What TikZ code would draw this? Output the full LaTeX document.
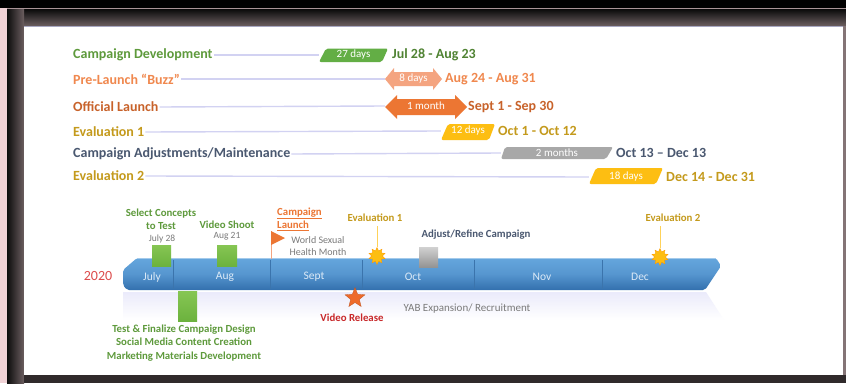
\documentclass[tikz,border=0pt]{standalone}
\usepackage{fontspec}
\setmainfont{Carlito}
\usetikzlibrary{shapes.geometric}
\definecolor{cdg}{HTML}{5E9A3C}
\definecolor{cdbar}{HTML}{63AE45}
\definecolor{plo}{HTML}{F0884E}
\definecolor{plbar}{HTML}{F4A480}
\definecolor{olo}{HTML}{C8622A}
\definecolor{olbar}{HTML}{EC7633}
\definecolor{evy}{HTML}{C49A1C}
\definecolor{evbar}{HTML}{FDBE12}
\definecolor{cag}{HTML}{4A5870}
\definecolor{cabar}{HTML}{A8A8A8}
\definecolor{guide}{HTML}{D2D2F2}
\definecolor{barhi}{HTML}{65A6DD}
\definecolor{barlo}{HTML}{3370AE}
\definecolor{sep}{HTML}{3B74AC}
\definecolor{monthc}{HTML}{DCEAF7}
\definecolor{yearred}{HTML}{DC4B4B}
\definecolor{msgreen}{HTML}{6CB23E}
\definecolor{msgreenhi}{HTML}{86C653}
\definecolor{grayt}{HTML}{7A7A7A}
\definecolor{vidred}{HTML}{C8282A}
\definecolor{starorange}{HTML}{EE6A2A}
\definecolor{pinkedge}{HTML}{F0D2D6}
\tikzset{
  rowlabel/.style={anchor=west, inner sep=0pt, font=\fontsize{14}{15}\bfseries\selectfont},
  datelabel/.style={anchor=west, inner sep=0pt, font=\fontsize{14}{15}\bfseries\selectfont},
  bartext/.style={inner sep=0pt, text=white, font=\fontsize{11}{12}\selectfont},
  guideline/.style={draw=guide, line width=1.4pt},
  month/.style={inner sep=0pt, text=monthc, font=\fontsize{11.5}{12}\selectfont},
  mslabel/.style={inner sep=0pt, align=center, font=\fontsize{10.8}{13.5}\bfseries\selectfont},
  msdate/.style={inner sep=0pt, text=grayt, font=\fontsize{9.5}{10}\selectfont},
  evstar/.style={star, star points=10, star point ratio=1.6, minimum size=17pt, inner sep=0pt, fill=evbar, draw=orange!80!yellow, line width=0.3pt},
}
\begin{document}
\begin{tikzpicture}[x=1pt,y=-1pt]
\useasboundingbox (0,0) rectangle (846,383);
% frame
\fill[black] (0,0) rectangle (846,383);
\fill[pinkedge] (0,8) rectangle (7,383);
\fill[pinkedge!70!black] (7,8) rectangle (846,9.5);
\shade[top color=black!95, bottom color=black!55!pinkedge] (7,9.5) rectangle (846,26);
\shade[left color=black!95, right color=black!55!pinkedge] (7,9.5) rectangle (24,383);
\fill[black!80!pinkedge] (24,375) rectangle (846,383);
\fill[black!45!pinkedge] (843,26) rectangle (846,375);
\fill[white] (24,26) rectangle (843,375);
\draw[guide!80!black, line width=0.6pt] (24,26.3) -- (843,26.3);

% ---- Gantt rows ----
\node[rowlabel, text=cdg] (l1) at (73,55) {Campaign Development};
\node[rowlabel, text=plo] (l2) at (73,79) {Pre-Launch “Buzz”};
\node[rowlabel, text=olo] (l3) at (73,107) {Official Launch};
\node[rowlabel, text=evy] (l4) at (73,132) {Evaluation 1};
\node[rowlabel, text=cag] (l5) at (73,154) {Campaign Adjustments/Maintenance};
\node[rowlabel, text=evy] (l6) at (73,176) {Evaluation 2};

% bars
\fill[cdbar, rounded corners=2pt] (326,48.5) -- (388,48.5) -- (382,62) -- (319,62) -- cycle;
\node[bartext, minimum width=69pt, minimum height=13pt] (b1) at (353.5,55) {27 days};
\fill[plbar] (385,79) -- (394,68) -- (394,72) -- (433,72) -- (433,68) -- (442,79) -- (433,90) -- (433,86) -- (394,86) -- (394,90) -- cycle;
\node[bartext, minimum width=57pt, minimum height=14pt] (b2) at (413.5,79) {8 days};
\fill[olbar] (385,107) -- (397,95) -- (397,99) -- (455,99) -- (455,95) -- (467,107) -- (455,119) -- (455,115) -- (397,115) -- (397,119) -- cycle;
\node[bartext, minimum width=82pt, minimum height=16pt] (b3) at (426,106) {1 month};
\fill[evbar, rounded corners=2pt] (448,124) -- (495,124) -- (489,140) -- (441,140) -- cycle;
\node[bartext, minimum width=54pt, minimum height=16pt] (b4) at (468,131) {12 days};
\fill[cabar, rounded corners=2pt] (505,147) -- (613,147) -- (606,159) -- (501,159) -- cycle;
\node[bartext, minimum width=112pt, minimum height=12pt] (b5) at (557,153) {2 months};
\fill[evbar, rounded corners=2pt] (596,168) -- (663,168) -- (656,184) -- (589,184) -- cycle;
\node[bartext, minimum width=74pt, minimum height=16pt] (b6) at (626,177) {18 days};

% guide lines
\draw[guideline] ([xshift=1pt]l1.east) -- (b1.west);
\draw[guideline] ([xshift=1pt]l2.east) -- (b2.west);
\draw[guideline] ([xshift=1pt]l3.east) -- (b3.west);
\draw[guideline] ([xshift=1pt]l4.east) -- (b4.west);
\draw[guideline] ([xshift=1pt]l5.east) -- (b5.west);
\draw[guideline] ([xshift=1pt]l6.east) -- (b6.west);

% date labels
\node[datelabel, text=cdg!85!black] (d1) at (392,55) {Jul 28 - Aug 23};
\node[datelabel, text=plo] (d2) at (445,79) {Aug 24 - Aug 31};
\node[datelabel, text=olo] (d3) at (468,107) {Sept 1 - Sep 30};
\node[datelabel, text=evy] (d4) at (498,131) {Oct 1 - Oct 12};
\node[datelabel, text=cag] (d5) at (616,153) {Oct 13 – Dec 13};
\node[datelabel, text=evy] (d6) at (666,177) {Dec 14 - Dec 31};

% ---- timeline ----
\shade[top color=black!22!blue!8!white, bottom color=white] (123,292) -- (706,292) -- (724,320) -- (123,320) -- cycle;
\shade[top color=barhi, bottom color=barlo, middle color=barhi!70!barlo, rounded corners=2pt]
  (137,258) -- (716,258) -- (721,266) -- (705,290) -- (127,290) -- (123,285) -- (123,270) -- cycle;
\draw[white!40!barhi, line width=0.6pt] (137,258.6) -- (716,258.6);
\foreach \x in {173,270,362,474,602} \draw[sep, line width=0.5pt] (\x,260) -- (\x,289);
\node[month] (mjul) at (152,277) {July};
\node[month] (maug) at (225,277) {Aug};
\node[month] (msep) at (314,277) {Sept};
\node[month] (moct) at (413,277) {Oct};
\node[month] (mnov) at (542,277) {Nov};
\node[month] (mdec) at (640,277) {Dec};
\node[inner sep=0pt, text=yearred, font=\fontsize{14}{15}\selectfont] (yr) at (98,276) {2020};

% milestones above
\shade[top color=msgreenhi, bottom color=msgreen] (152,245) rectangle (171,266);
\node[mslabel, text=cdg] (sc) at (161,219) {Select Concepts\\to Test};
\node[msdate] (sc date) at (162,238.5) {July 28};
\shade[top color=msgreenhi, bottom color=msgreen] (217,245) rectangle (237,266);
\node[mslabel, text=cdg] (vs) at (227,225) {Video Shoot};
\node[msdate] (vs date) at (227,236.5) {Aug 21};
\shade[top color=msgreenhi, bottom color=msgreen] (178,291) rectangle (197,321);
\node[mslabel, text=cdg] (tf) at (184,343) {Test \& Finalize Campaign Design\\Social Media Content Creation\\Marketing Materials Development};

% flag
\coordinate (flagbase) at (271,259);
\coordinate (flagtop) at (271,231);
\draw[plbar, line width=0.8pt] (flagbase) -- (flagtop);
\fill[olbar] (flagtop) -- (285,238) -- (271,245) -- cycle;
\node[inner sep=0pt, anchor=west, text=olbar, font=\fontsize{10.8}{13.5}\bfseries\selectfont, align=left] (cl) at (277,219) {\underline{Campaign}\\\underline{Launch}};
\node[inner sep=0pt, text=grayt, align=center, font=\fontsize{10}{12.5}\selectfont] (wshm) at (318,246) {World Sexual\\Health Month};

% evaluations
\node[mslabel, text=evy] (e1) at (375,218) {Evaluation 1};
\node[evstar] (e1s) at (377,256) {};
\draw[evbar!70!white, line width=0.9pt] (377,226) -- (e1s.north);
\node[mslabel, text=evy] (e2) at (673,218) {Evaluation 2};
\node[evstar] (e2s) at (660,257) {};
\draw[evbar!70!white, line width=0.9pt] (660,226) -- (e2s.north);

% adjust/refine
\shade[top color=black!18, bottom color=black!42] (419,247) rectangle (438,267);
\node[mslabel, text=cag] (ar) at (476,235) {Adjust/Refine Campaign};

% video release
\node[star, star points=5, star point ratio=2.3, minimum size=21pt, inner sep=0pt, fill=starorange, draw=starorange!80!black, line width=0.3pt] (vr) at (355,298) {};
\node[mslabel, text=vidred] (vrl) at (352,318) {Video Release};

% YAB
\node[inner sep=0pt, text=grayt, font=\fontsize{11}{12}\selectfont] (yab) at (467,309) {YAB Expansion/ Recruitment};
\end{tikzpicture}
\end{document}
